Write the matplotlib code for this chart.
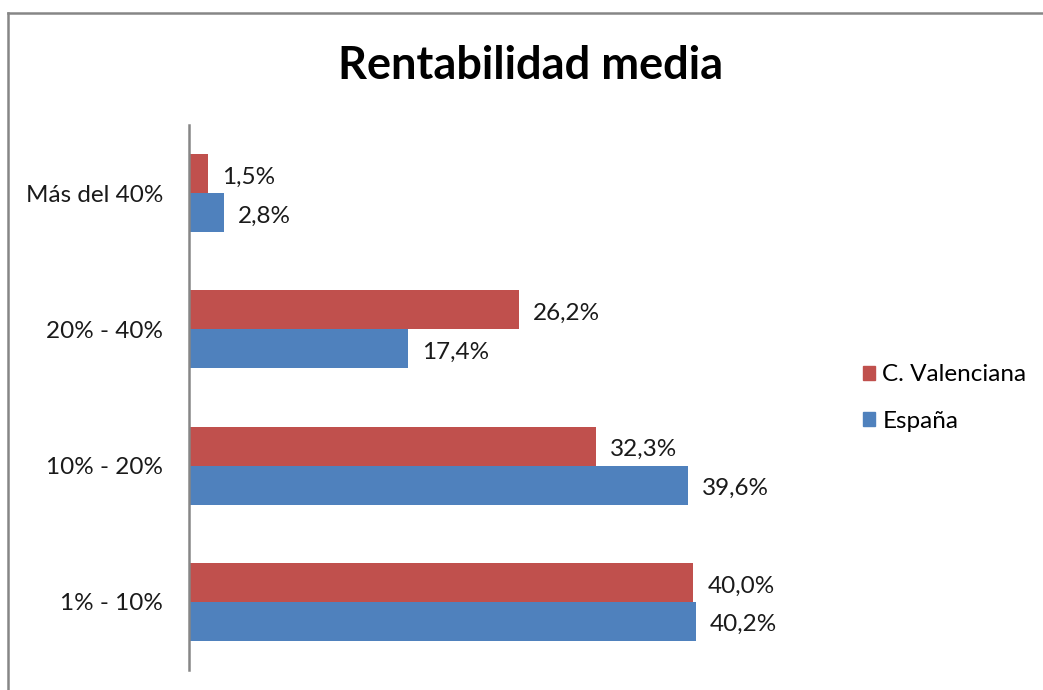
import matplotlib
matplotlib.use("Agg")
import matplotlib.pyplot as plt
from matplotlib.patches import Rectangle
from matplotlib.lines import Line2D
import numpy as np

categories = ["1% - 10%", "10% - 20%", "20% - 40%", "Más del 40%"]
valenciana = [40.0, 32.3, 26.2, 1.5]
espana = [40.2, 39.6, 17.4, 2.8]
series_names = ["C. Valenciana", "España"]
title = "Rentabilidad media"

RED = "#C0504D"
BLUE = "#4F81BD"
GRAY = "#868686"
FONT = ["Lato", "DejaVu Sans"]
FS = 17.5

W, H = 1043, 690
fig = plt.figure(figsize=(W / 100, H / 100), dpi=100)
fig.patch.set_facecolor("white")

# outer frame
fig.add_artist(Line2D([8 / W, 8 / W], [0, 1 - 13 / H], transform=fig.transFigure, color=GRAY, lw=1.8))
fig.add_artist(Line2D([8 / W, 1.0], [1 - 13 / H, 1 - 13 / H], transform=fig.transFigure, color=GRAY, lw=1.8))

ax_left, ax_top, ax_bottom = 189, 125, 670
xmax = 50
px_per = 12.61
ax_w = xmax * px_per
ax = fig.add_axes([ax_left / W, (H - ax_bottom) / H, ax_w / W, (ax_bottom - ax_top) / H])

y = np.arange(len(categories))
h = 0.286
ax.barh(y + h / 2, valenciana, height=h, color=RED, label=series_names[0])
ax.barh(y - h / 2, espana, height=h, color=BLUE, label=series_names[1])

for yi, v in zip(y, valenciana):
    ax.annotate(f"{v:.1f}%".replace(".", ","), (v, yi + h / 2), xytext=(10, -2.5),
                textcoords="offset points", va="center", ha="left", fontsize=FS, family=FONT, color="#1a1a1a")
for yi, v in zip(y, espana):
    ax.annotate(f"{v:.1f}%".replace(".", ","), (v, yi - h / 2), xytext=(10, -2.5),
                textcoords="offset points", va="center", ha="left", fontsize=FS, family=FONT, color="#1a1a1a")

ax.set_xlim(0, xmax)
ax.set_ylim(-0.5, 3.5)
ax.set_yticks(y)
ax.set_yticklabels(categories, fontsize=FS, family=FONT, color="#1a1a1a")
ax.tick_params(axis="y", length=0, pad=18.5)
ax.set_xticks([])
for s in ["top", "right", "bottom"]:
    ax.spines[s].set_visible(False)
ax.spines["left"].set_color(GRAY)
ax.spines["left"].set_linewidth(1.8)

fig.text(531 / W, 1 - 66 / H, title, ha="center", va="center", fontsize=32.5,
         fontweight="bold", family=FONT, color="black")

handles = [Rectangle((0, 0), 1, 1, color=RED), Rectangle((0, 0), 1, 1, color=BLUE)]
leg = fig.legend(handles, series_names, loc="center left", bbox_to_anchor=(841 / W, 1 - 398 / H),
                 frameon=False, prop={"family": FONT, "size": FS}, handlelength=0.5, handleheight=0.5,
                 handletextpad=0.3, labelspacing=1.05)

fig.savefig("out.png", dpi=100, facecolor="white")
